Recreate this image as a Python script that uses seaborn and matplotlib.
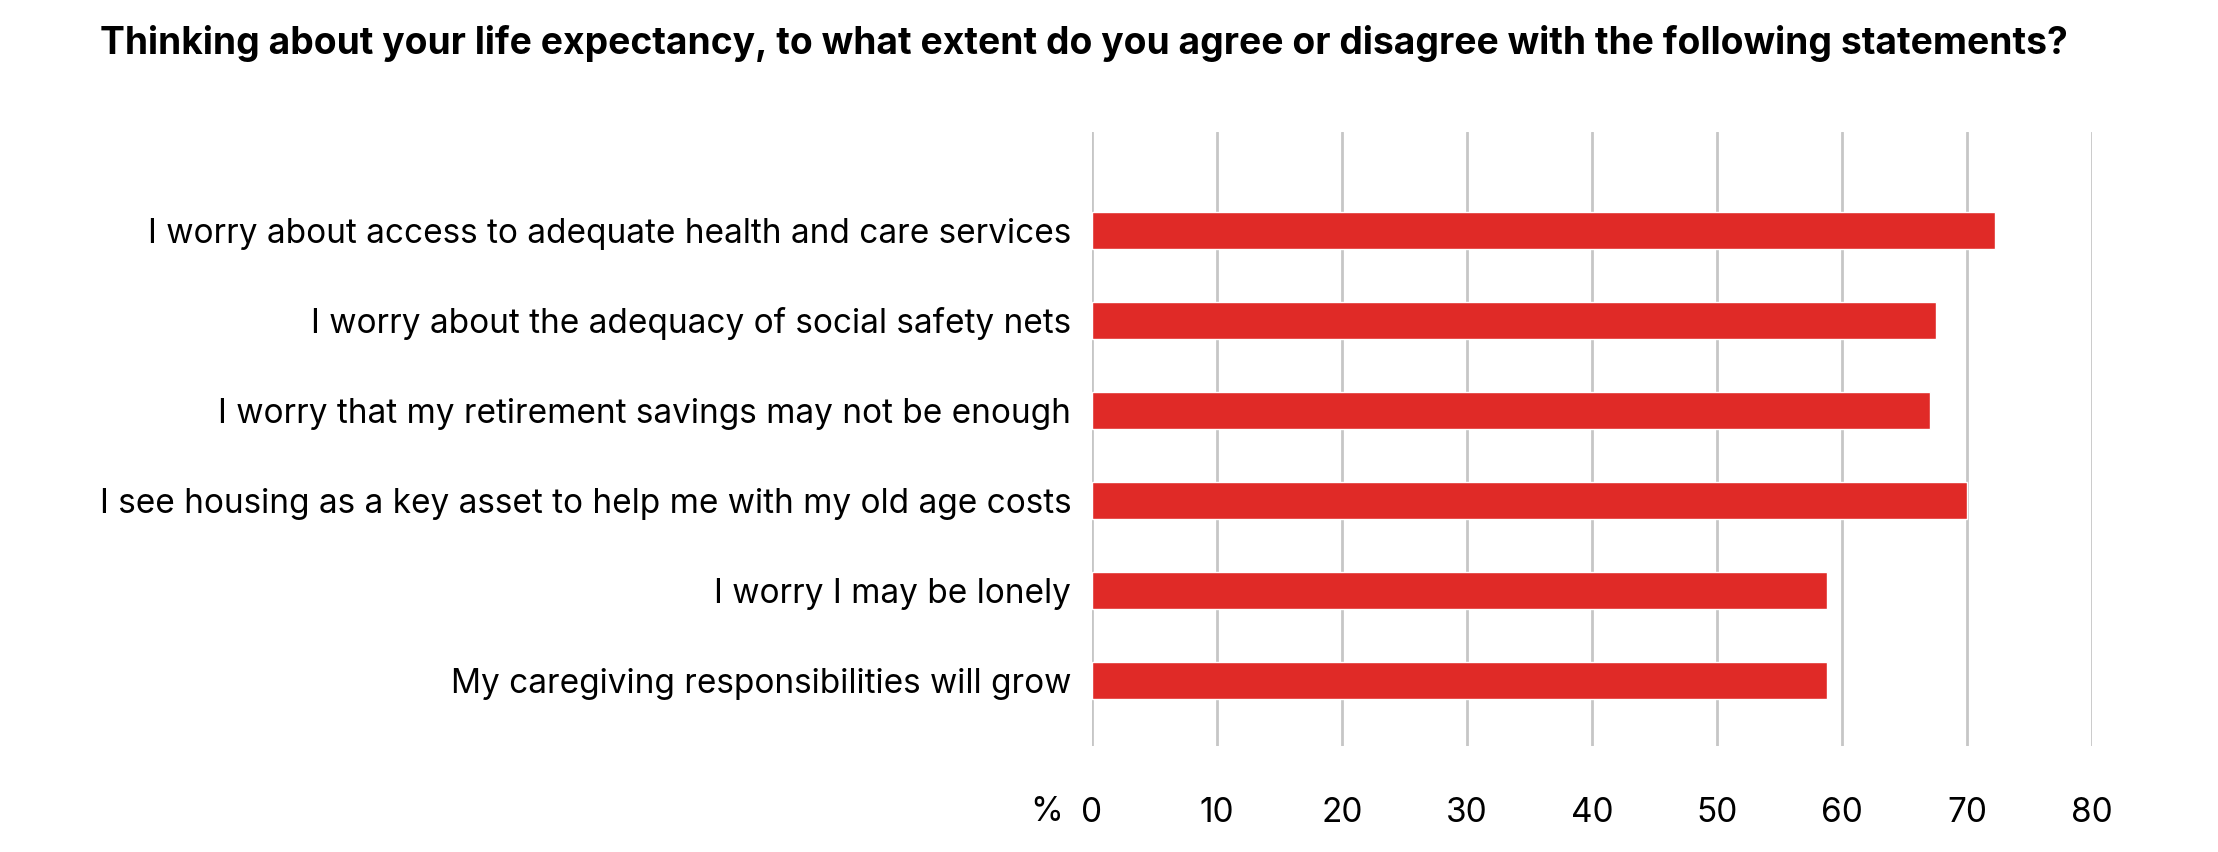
import matplotlib
matplotlib.use("Agg")
import matplotlib.pyplot as plt
import seaborn as sns
import pandas as pd

# Valeurs
statements = [
    "I worry about access to adequate health and care services",
    "I worry about the adequacy of social safety nets",
    "I worry that my retirement savings may not be enough",
    "I see housing as a key asset to help me with my old age costs",
    "I worry I may be lonely",
    "My caregiving responsibilities will grow",
]
agree_pct = [72.2, 67.5, 67.0, 70.0, 58.8, 58.8]
x_ticks = [0, 10, 20, 30, 40, 50, 60, 70, 80]

df = pd.DataFrame({"statement": statements, "pct": agree_pct})

sns.set_theme(style="white")
plt.rcParams["font.family"] = ["Inter", "DejaVu Sans"]
plt.rcParams["text.color"] = "black"

fig = plt.figure(figsize=(22.18, 8.52), dpi=100)
ax = fig.add_axes([1092 / 2218, 106 / 852, 1000 / 2218, 614 / 852])

sns.barplot(data=df, x="pct", y="statement", orient="h", color="#e02a27",
            saturation=1, width=0.41, ax=ax)

ax.set_xlim(0, 80)
ax.set_ylim(len(statements) - 1 + 0.73, -1.09)
ax.set_xticks(x_ticks)
ax.xaxis.grid(True, color="#c6c6c6", linewidth=2)
ax.set_axisbelow(True)
for s in ax.spines.values():
    s.set_visible(False)
ax.tick_params(axis="x", length=0, pad=37, labelsize=24, labelcolor="black")
ax.tick_params(axis="y", length=0, pad=15, labelsize=24, labelcolor="black")
ax.set_xlabel("")
ax.set_ylabel("")

fig.text(1047 / 2218, 1 - 812 / 852, "%", ha="center", va="center", fontsize=24)
fig.text(100 / 2218, 1 - 43 / 852,
         "Thinking about your life expectancy, to what extent do you agree or disagree with the following statements?",
         ha="left", va="center", fontsize=26.8, fontweight="bold")

fig.savefig("out.png", dpi=100, facecolor="white")
